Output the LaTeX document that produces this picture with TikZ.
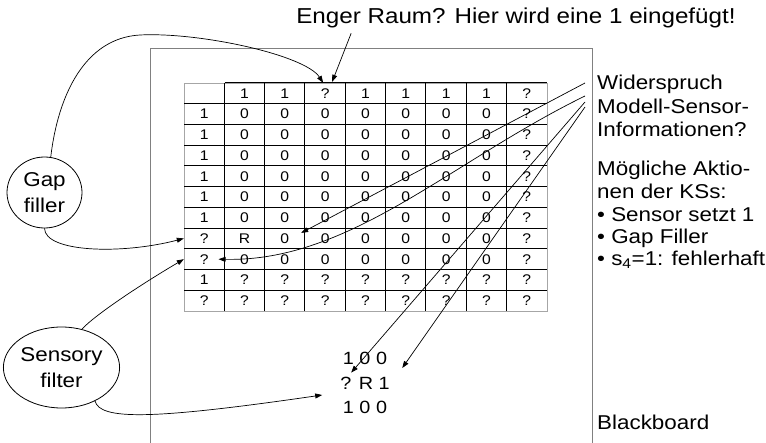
\documentclass[tikz,border=0pt]{standalone}
\usepackage{fontspec}
\setmainfont{Liberation Sans}[FakeStretch=1.12]
\usetikzlibrary{arrows.meta,shapes.geometric}

\tikzset{
  cell/.style={minimum width=40.33pt, minimum height=20.73pt, inner sep=0pt,
    font=\fontsize{14}{16}\selectfont},
  gridrow/.style={inner sep=0pt, font=\fontsize{17.7}{21}\selectfont},
  ks/.style={draw, ellipse, line width=0.8pt, inner sep=0pt, align=center,
    font=\fontsize{20}{26.5}\selectfont},
  rtext/.style={anchor=west, align=left, inner sep=0pt,
    font=\fontsize{20}{23.5}\selectfont},
  arr/.style={-{Triangle[length=7pt,width=5pt]}, line width=0.7pt},
}

\begin{document}
\begin{tikzpicture}[x=1pt, y=-1pt]
    \useasboundingbox (0,0) rectangle (766,443);
    % blackboard frame
    \draw[gray, line width=1pt] (150,443) -- (150,49) -- (592,49) -- (592,443);

    % table
    \draw[gray!70, line width=0.8pt] (184,83) rectangle (547,311);
    \draw[line width=1pt] (225,83) -- (547,83);
    \foreach \r in {1,...,10}
      \draw[line width=1pt] (184,{83+20.73*\r}) -- (547,{83+20.73*\r});
    \foreach \c in {1,...,8}
      \draw[line width=1pt] ({184+40.33*\c},83) -- ({184+40.33*\c},311);

    \foreach \v [count=\c from 1] in {1,1,?,1,1,1,1,?}
      \node[cell] (c-0-\c) at ({184+40.33*(\c+0.5)},{83+20.73*0.5}) {\v};
    \foreach \r in {1,...,6}
      \foreach \v [count=\c from 0] in {1,0,0,0,0,0,0,0,?}
        \node[cell] (c-\r-\c) at ({184+40.33*(\c+0.5)},{83+20.73*(\r+0.5)}) {\v};
    \foreach \r/\row in {7/{?,R,0,0,0,0,0,0,?}, 8/{?,0,0,0,0,0,0,0,?},
                         9/{1,?,?,?,?,?,?,?,?}, 10/{?,?,?,?,?,?,?,?,?}}
      \foreach \v [count=\c from 0] in \row
        \node[cell] (c-\r-\c) at ({184+40.33*(\c+0.5)},{83+20.73*(\r+0.5)}) {\v};

    % local sensor view
    \node[gridrow] (g1) at (365,358) {1 0 0};
    \node[gridrow] (g2) at (365,383) {? R 1};
    \node[gridrow] (g3) at (365,407) {1 0 0};

    % knowledge sources
    \node[ks, minimum width=75pt, minimum height=71pt] (gap) at (44.5,192.5) {Gap\\filler};
    \node[ks, minimum width=97pt, minimum height=81pt] (sens) at (61.5,367.5) {Sensory\\filter};

    % texts
    \node[font=\fontsize{21.6}{26}\selectfont, inner sep=0pt] (enger) at (516,18)
      {Enger Raum? Hier wird eine 1 eingefügt!};
    \node[rtext] (wid) at (597,106) {Widerspruch\\Modell-Sensor-\\Informationen?};
    \node[rtext] (akt) at (597,180) {Mögliche Aktio-\\nen der KSs:};
    \node[rtext, font=\fontsize{20}{22}\selectfont] (actions) at (597,238)
      {• Sensor setzt 1\\• Gap Filler\\• s\textsubscript{4}=1: fehlerhaft};
    \node[rtext] (bb) at (597,422) {Blackboard};

    \coordinate (w1) at (585,83);
    \coordinate (w2) at (585,96);
    \coordinate (w3) at (585,102);
    \coordinate (w4) at (585,107);

    % connectors
    \draw[arr] (gap.80) .. controls (58,95) and (85,38) .. (140,35)
      .. controls (200,32) and (305,55) .. ([xshift=-2pt]c-0-3.north);
    \draw[arr] ([xshift=55pt,yshift=-5pt]enger.south west) -- ([xshift=7pt,yshift=1pt]c-0-3.north);
    \draw[arr] (gap.south) .. controls (45,252) and (120,255) .. (c-7-0.west);
    \draw[arr] (sens.62) .. controls (95,315) and (140,285) .. (c-8-0.west);
    \draw[arr] (sens.-45) .. controls (100,420) and (150,420) .. ([xshift=-18pt,yshift=-12pt]g2.west);
    \draw[arr] (w1) -- ([xshift=-4pt,yshift=-5pt]c-7-2.north east);
    \draw[arr] (w2) .. controls (450,162) and (350,262) .. ([xshift=-6pt]c-8-0.east);
    \draw[arr] (w3) -- ([xshift=11pt,yshift=4pt]g2.north west);
    \draw[arr] (w4) -- ([xshift=15pt,yshift=-10pt]g1.east);
\end{tikzpicture}
\end{document}
